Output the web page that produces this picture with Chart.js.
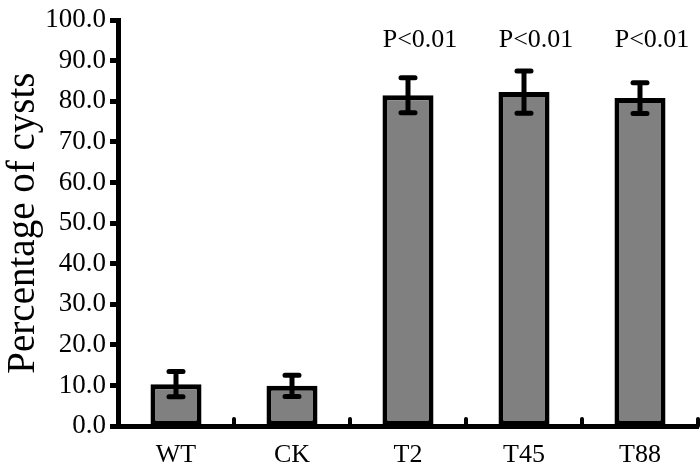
<!DOCTYPE html>
<html>
<head>
<script src="https://cdn.jsdelivr.net/npm/chart.js"></script>
<style>
  html, body { margin: 0; padding: 0; background: #fff; }
</style>
</head>
<body>
<canvas id="chart" width="700" height="466"></canvas>
<script>
  // dados
  var categorias = ["WT", "CK", "T2", "T45", "T88"];
  var medias = [10.3, 9.9, 81.5, 82.3, 80.8];
  var erros = [3.1, 2.6, 4.3, 5.2, 3.8];
  var rotulosP = ["", "", "P<0.01", "P<0.01", "P<0.01"];
  var yTicks = [0, 10, 20, 30, 40, 50, 60, 70, 80, 90, 100];

  var fonte = "'Liberation Serif', 'Times New Roman', serif";

  // barras de erro + rótulos P + tracinhos do eixo x
  var extras = {
    id: 'extras',
    afterDatasetsDraw: function (chart) {
      var ctx = chart.ctx;
      var y = chart.scales.y;
      var meta = chart.getDatasetMeta(0);
      var area = chart.chartArea;
      ctx.save();
      ctx.strokeStyle = '#000';
      ctx.lineWidth = 5;
      ctx.lineCap = 'round';
      for (var i = 0; i < medias.length; i++) {
        var bx = meta.data[i].x;
        var yt = y.getPixelForValue(medias[i] + erros[i]);
        var yb = y.getPixelForValue(medias[i] - erros[i]);
        ctx.beginPath();
        ctx.moveTo(bx, yt); ctx.lineTo(bx, yb);
        ctx.moveTo(bx - 7, yt); ctx.lineTo(bx + 7, yt);
        ctx.moveTo(bx - 7, yb); ctx.lineTo(bx + 7, yb);
        ctx.stroke();
        if (rotulosP[i]) {
          ctx.fillStyle = '#000';
          ctx.font = '26px ' + fonte;
          ctx.textAlign = 'center';
          ctx.textBaseline = 'alphabetic';
          ctx.fillText(rotulosP[i], bx + 12, y.getPixelForValue(93.4));
        }
      }
      // tracinhos entre categorias, para cima
      var passo = meta.data[1].x - meta.data[0].x;
      ctx.lineWidth = 4;
      ctx.lineCap = 'round';
      for (var j = 0; j < medias.length; j++) {
        var tx = meta.data[j].x + passo / 2;
        if (tx > area.right) tx = area.right - 1;
        ctx.beginPath();
        ctx.moveTo(tx, area.bottom);
        ctx.lineTo(tx, area.bottom - 7);
        ctx.stroke();
      }
      ctx.restore();
    }
  };

  var ctx = document.getElementById('chart').getContext('2d');
  new Chart(ctx, {
    type: 'bar',
    data: {
      labels: categorias,
      datasets: [{
        data: medias,
        backgroundColor: '#808080',
        borderColor: '#000',
        borderWidth: 5,
        borderSkipped: false,
        barPercentage: 0.44,
        categoryPercentage: 1
      }]
    },
    options: {
      responsive: false,
      animation: false,
      devicePixelRatio: 1,
      layout: { padding: { top: 10, right: 2, left: 0, bottom: 0 }, autoPadding: false },
      plugins: { legend: { display: false }, tooltip: { enabled: false } },
      scales: {
        x: {
          grid: { display: false },
          border: { color: '#000', width: 5 },
          ticks: { color: '#000', font: { family: fonte, size: 26 }, padding: 6, maxRotation: 0 },
          afterFit: function (s) { s.height = 40; }
        },
        y: {
          min: 0, max: 100,
          afterBuildTicks: function (s) { s.ticks = yTicks.map(function (v) { return { value: v }; }); },
          grid: { drawOnChartArea: false, tickLength: 8, tickColor: '#000', tickWidth: 5 },
          border: { color: '#000', width: 5 },
          ticks: {
            color: '#000', padding: 4,
            font: { family: fonte, size: 27 },
            callback: function (v) { return Number(v).toFixed(1); }
          },
          title: {
            display: true, text: 'Percentage of cysts', color: '#000',
            font: { family: fonte, size: 39 }, padding: 0
          },
          afterFit: function (s) { s.width = 118; }
        }
      }
    },
    plugins: [extras]
  });
</script>
</body>
</html>
